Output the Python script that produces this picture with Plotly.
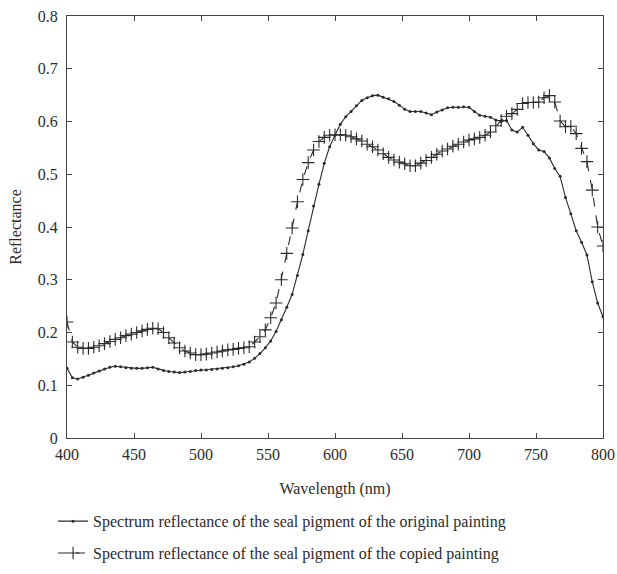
import plotly.graph_objects as go

wavelength = list(range(400, 801, 4))

original = [
    0.132, 0.114, 0.112, 0.115, 0.119, 0.123, 0.127, 0.131, 0.134, 0.136,
    0.135, 0.133, 0.132, 0.132, 0.132, 0.133, 0.134, 0.131, 0.128, 0.126,
    0.125, 0.124, 0.125, 0.126, 0.128, 0.129, 0.129, 0.130, 0.131, 0.132,
    0.133, 0.135, 0.137, 0.140, 0.144, 0.151, 0.160, 0.171, 0.184, 0.202,
    0.224, 0.248, 0.272, 0.308, 0.348, 0.393, 0.440, 0.481, 0.521, 0.552,
    0.574, 0.595, 0.609, 0.619, 0.630, 0.640, 0.645, 0.649, 0.650, 0.646,
    0.643, 0.638, 0.631, 0.623, 0.619, 0.619, 0.619, 0.616, 0.613, 0.618,
    0.622, 0.626, 0.627, 0.627, 0.628, 0.627, 0.619, 0.612, 0.610, 0.608,
    0.603, 0.600, 0.602, 0.584, 0.580, 0.589, 0.574, 0.558, 0.546, 0.543,
    0.531, 0.511, 0.496, 0.456, 0.425, 0.393, 0.371, 0.347, 0.296, 0.256,
    0.230,
]

copied = [
    0.220, 0.182, 0.172, 0.170, 0.170, 0.172, 0.175, 0.179, 0.183, 0.187,
    0.190, 0.194, 0.197, 0.200, 0.203, 0.206, 0.208, 0.207, 0.200, 0.190,
    0.180, 0.171, 0.165, 0.161, 0.158, 0.158, 0.159, 0.161, 0.163, 0.165,
    0.167, 0.168, 0.170, 0.171, 0.173, 0.182, 0.192, 0.205, 0.228, 0.256,
    0.300, 0.350, 0.398, 0.448, 0.490, 0.522, 0.546, 0.562, 0.570, 0.574,
    0.575, 0.575, 0.574, 0.571, 0.567, 0.563, 0.557, 0.552, 0.546, 0.539,
    0.532, 0.527, 0.523, 0.520, 0.516, 0.516, 0.521, 0.526, 0.532, 0.538,
    0.544, 0.548, 0.553, 0.557, 0.561, 0.565, 0.567, 0.570, 0.574, 0.580,
    0.592, 0.602, 0.610, 0.615, 0.623, 0.634, 0.636, 0.636, 0.637, 0.645,
    0.649, 0.637, 0.601, 0.590, 0.591, 0.577, 0.549, 0.524, 0.470, 0.400,
    0.364,
]

x_ticks = [400, 450, 500, 550, 600, 650, 700, 750, 800]
y_ticks = [0, 0.1, 0.2, 0.3, 0.4, 0.5, 0.6, 0.7, 0.8]
y_tick_text = ["0", "0.1", "0.2", "0.3", "0.4", "0.5", "0.6", "0.7", "0.8"]

name_original = "Spectrum reflectance of the seal pigment of the original painting"
name_copied = "Spectrum reflectance of the seal pigment of the copied painting"

FONT = "Liberation Serif, DejaVu Serif, serif"
INK = "#2b2b2b"
FS = 16

fig = go.Figure()
fig.add_trace(go.Scatter(
    x=wavelength, y=original, name=name_original, mode="lines+markers",
    line=dict(color=INK, width=1.1),
    marker=dict(symbol="circle", size=3, color=INK),
    legendgroup="a",
))
fig.add_trace(go.Scatter(
    x=wavelength, y=copied, name=name_copied, mode="lines+markers",
    line=dict(color=INK, width=1.1, dash="dash"),
    marker=dict(symbol="cross-thin-open", size=9, line=dict(color=INK, width=1.1)),
    legendgroup="b",
))

axis_common = dict(
    showline=True, linecolor="#444", linewidth=1, mirror="ticks",
    ticks="inside", ticklen=5, tickcolor="#444", showgrid=False, zeroline=False,
    tickfont=dict(family=FONT, size=FS, color=INK),
)

fig.update_layout(
    width=617, height=574,
    margin=dict(l=67, r=14, t=16, b=136, autoexpand=False),
    paper_bgcolor="white", plot_bgcolor="white",
    font=dict(family=FONT, size=FS, color=INK),
    xaxis=dict(range=[400, 800], tickvals=x_ticks, ticklabelstandoff=2, **axis_common,
               title=dict(text="Wavelength (nm)", font=dict(family=FONT, size=FS, color=INK), standoff=20)),
    yaxis=dict(range=[0, 0.8], tickvals=y_ticks, ticktext=y_tick_text, ticklabelstandoff=5, **axis_common,
               title=dict(text="Reflectance", font=dict(family=FONT, size=FS, color=INK), standoff=12)),
    showlegend=True,
    legend=dict(
        x=-0.026, y=-0.157, xanchor="left", yanchor="top",
        orientation="v", bgcolor="rgba(0,0,0,0)",
        font=dict(family=FONT, size=FS, color=INK),
        tracegroupgap=8, itemwidth=30,
    ),
)

fig.write_html("out.html")
